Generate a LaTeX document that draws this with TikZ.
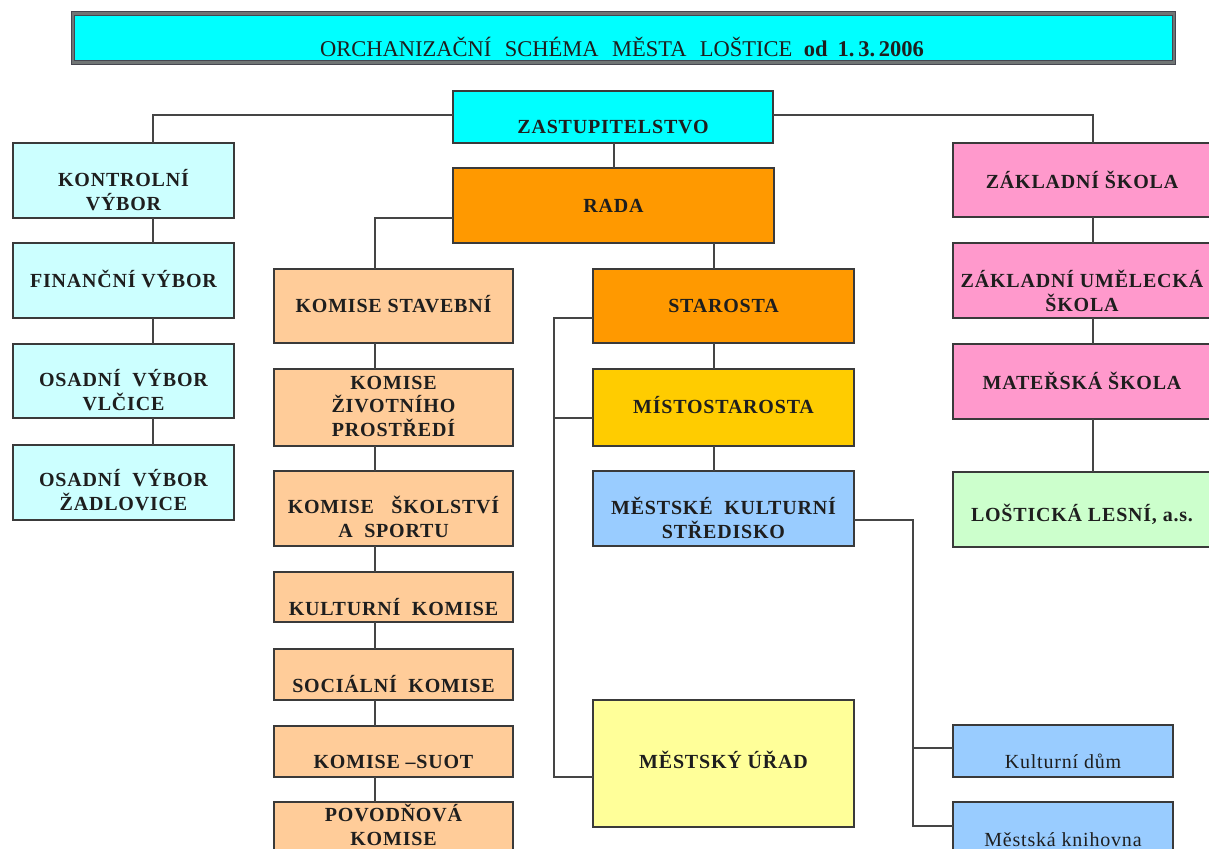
\documentclass[tikz,border=0pt]{standalone}
\usepackage{fontspec}
\setmainfont{Liberation Serif}
\newfontfamily\bxfont[LetterSpace=4]{Liberation Serif}
\usetikzlibrary{calc}
\definecolor{cyanA}{HTML}{00FFFF}
\definecolor{cyanL}{HTML}{CCFFFF}
\definecolor{orangeA}{HTML}{FF9900}
\definecolor{orangeL}{HTML}{FFCC99}
\definecolor{goldA}{HTML}{FFCC00}
\definecolor{blueL}{HTML}{99CCFF}
\definecolor{yellowL}{HTML}{FFFF99}
\definecolor{pinkA}{HTML}{FF99CC}
\definecolor{greenL}{HTML}{CCFFCC}
\definecolor{boxline}{HTML}{3A3A3A}
\definecolor{linkcol}{HTML}{454545}
\definecolor{txtcol}{HTML}{1E1E1E}
\definecolor{titleout}{HTML}{464650}
\definecolor{titlein}{HTML}{707575}
% name, x1, y1, x2, y2, style, baseline y of the last line, text
\newcommand\bx[8]{%
  \node[bxs,#6,minimum width={(#4-#2)*1pt},minimum height={(#5-#3)*1pt}] (#1) at ({(#2+#4)/2},{(#3+#5)/2}) {};
  \node[txt] (#1t) at ({(#2+#4)/2},#7) {#8};
}
\begin{document}
\begin{tikzpicture}[x=1pt,y=-1pt,
  bxs/.style={rectangle,draw=boxline,line width=1.4pt,inner sep=0pt,outer sep=0pt},
  txt/.style={align=center,inner sep=0pt,anchor=base,text=txtcol,font=\bxfont\bfseries\fontsize{20}{23.5}\selectfont},
  lnk/.style={draw=linkcol,line width=1.4pt}]
\useasboundingbox (0,0) rectangle (1209,848);
\fill[white] (0,0) rectangle (1209,848);

% title
\node[rectangle,draw=titleout,line width=1pt,double=titlein,double distance=2.5pt,fill=cyanA,inner sep=0pt,
  minimum width=1101pt,minimum height=49pt] (title) at (623.5,38) {};
\node[anchor=base,inner sep=0pt,text=txtcol,font=\fontsize{22.5}{25}\selectfont] (titlet) at (622,57)
  {ORCHANIZAČNÍ\hspace{0.6em}SCHÉMA\hspace{0.6em}MĚSTA\hspace{0.6em}LOŠTICE\hspace{0.5em}\textbf{od\hspace{0.45em}1.\,3.\,2006}};

% top
\bx{zast}{453}{91}{773}{143}{fill=cyanA}{133}{ZASTUPITELSTVO}
\bx{rada}{453}{168}{774}{243}{fill=orangeA}{212}{RADA}

% left column
\bx{kontrol}{13}{143}{234}{218}{fill=cyanL}{210}{KONTROLNÍ\\VÝBOR}
\bx{financni}{13}{243}{234}{318}{fill=cyanL}{287}{FINANČNÍ VÝBOR}
\bx{vlcice}{13}{344}{234}{418}{fill=cyanL}{410}{OSADNÍ\ \ VÝBOR\\VLČICE}
\bx{zadlovice}{13}{445}{234}{520}{fill=cyanL}{510}{OSADNÍ\ \ VÝBOR\\ŽADLOVICE}

% commissions
\bx{stavebni}{274}{269}{513}{343}{fill=orangeL}{312}{KOMISE STAVEBNÍ}
\bx{zivotni}{274}{369}{513}{446}{fill=orangeL}{436}{KOMISE\\ŽIVOTNÍHO\\PROSTŘEDÍ}
\bx{skolstvi}{274}{471}{513}{546}{fill=orangeL}{537}{KOMISE\ \ \ ŠKOLSTVÍ\\A\ \ SPORTU}
\bx{kulturni}{274}{572}{513}{622}{fill=orangeL}{615}{KULTURNÍ\ \ KOMISE}
\bx{socialni}{274}{649}{513}{700}{fill=orangeL}{692}{SOCIÁLNÍ\ \ KOMISE}
\bx{suot}{274}{726}{513}{777}{fill=orangeL}{768}{KOMISE –SUOT}
\bx{povod}{274}{802}{513}{862}{fill=orangeL}{845}{POVODŇOVÁ\\KOMISE}

% middle column
\bx{starosta}{593}{269}{854}{343}{fill=orangeA}{312}{STAROSTA}
\bx{misto}{593}{369}{854}{446}{fill=goldA}{413}{MÍSTOSTAROSTA}
\bx{mks}{593}{471}{854}{546}{fill=blueL}{538}{MĚSTSKÉ\ \ KULTURNÍ\\STŘEDISKO}
\bx{mu}{593}{700}{854}{827}{fill=yellowL}{768}{MĚSTSKÝ ÚŘAD}

% right column
\bx{zs}{953}{143}{1211}{217}{fill=pinkA}{188}{ZÁKLADNÍ ŠKOLA}
\bx{zus}{953}{243}{1211}{318}{fill=pinkA}{311}{ZÁKLADNÍ UMĚLECKÁ\\ŠKOLA}
\bx{ms}{953}{344}{1211}{419}{fill=pinkA}{389}{MATEŘSKÁ ŠKOLA}
\bx{lost}{953}{472}{1211}{547}{fill=greenL}{521}{LOŠTICKÁ LESNÍ, a.s.}

% bottom right
\bx{kd}{953}{725}{1173}{777}{fill=blueL}{768}{\mdseries Kulturní dům}
\bx{knih}{953}{802}{1173}{862}{fill=blueL}{846}{\mdseries Městská knihovna}

% column coordinates
\coordinate (cA) at (153,0);
\coordinate (cZ) at (614,0);
\coordinate (cK) at (375,0);
\coordinate (cS) at (714,0);
\coordinate (cL) at (554,0);
\coordinate (cR) at (913,0);
\coordinate (cP) at (1093,0);

% connection points on sides
\coordinate (zW) at ([yshift=2pt]zast.west);
\coordinate (zE) at ([yshift=2pt]zast.east);
\coordinate (rW) at ([yshift=-12.5pt]rada.west);
\coordinate (stW) at ([yshift=-12pt]starosta.west);
\coordinate (msW) at ([yshift=-10.5pt]misto.west);
\coordinate (muW) at ([yshift=-13.5pt]mu.west);
\coordinate (mksE) at ([yshift=-11.5pt]mks.east);
\coordinate (kdW) at ([yshift=3pt]kd.west);
\coordinate (knW) at ([yshift=6pt]knih.west);

\draw[lnk] (zW) -- (zW -| cA) -- (kontrol.north -| cA);
\draw[lnk] (zE) -- (zE -| cP) -- (zs.north -| cP);
\draw[lnk] (zast.south -| cZ) -- (rada.north -| cZ);
\draw[lnk] (rW) -- (rW -| cK) -- (stavebni.north -| cK);
\draw[lnk] (rada.south -| cS) -- (starosta.north -| cS);
\foreach \a/\b in {kontrol/financni,financni/vlcice,vlcice/zadlovice}
  \draw[lnk] (\a.south -| cA) -- (\b.north -| cA);
\foreach \a/\b in {stavebni/zivotni,zivotni/skolstvi,skolstvi/kulturni,kulturni/socialni,socialni/suot,suot/povod}
  \draw[lnk] (\a.south -| cK) -- (\b.north -| cK);
\foreach \a/\b in {starosta/misto,misto/mks}
  \draw[lnk] (\a.south -| cS) -- (\b.north -| cS);
\foreach \a/\b in {zs/zus,zus/ms,ms/lost}
  \draw[lnk] (\a.south -| cP) -- (\b.north -| cP);
\draw[lnk] (stW) -- (stW -| cL) -- (muW -| cL) -- (muW);
\draw[lnk] (msW) -- (msW -| cL);
\draw[lnk] (mksE) -- (mksE -| cR) -- (knW -| cR) -- (knW);
\draw[lnk] (kdW -| cR) -- (kdW);
\end{tikzpicture}
\end{document}
